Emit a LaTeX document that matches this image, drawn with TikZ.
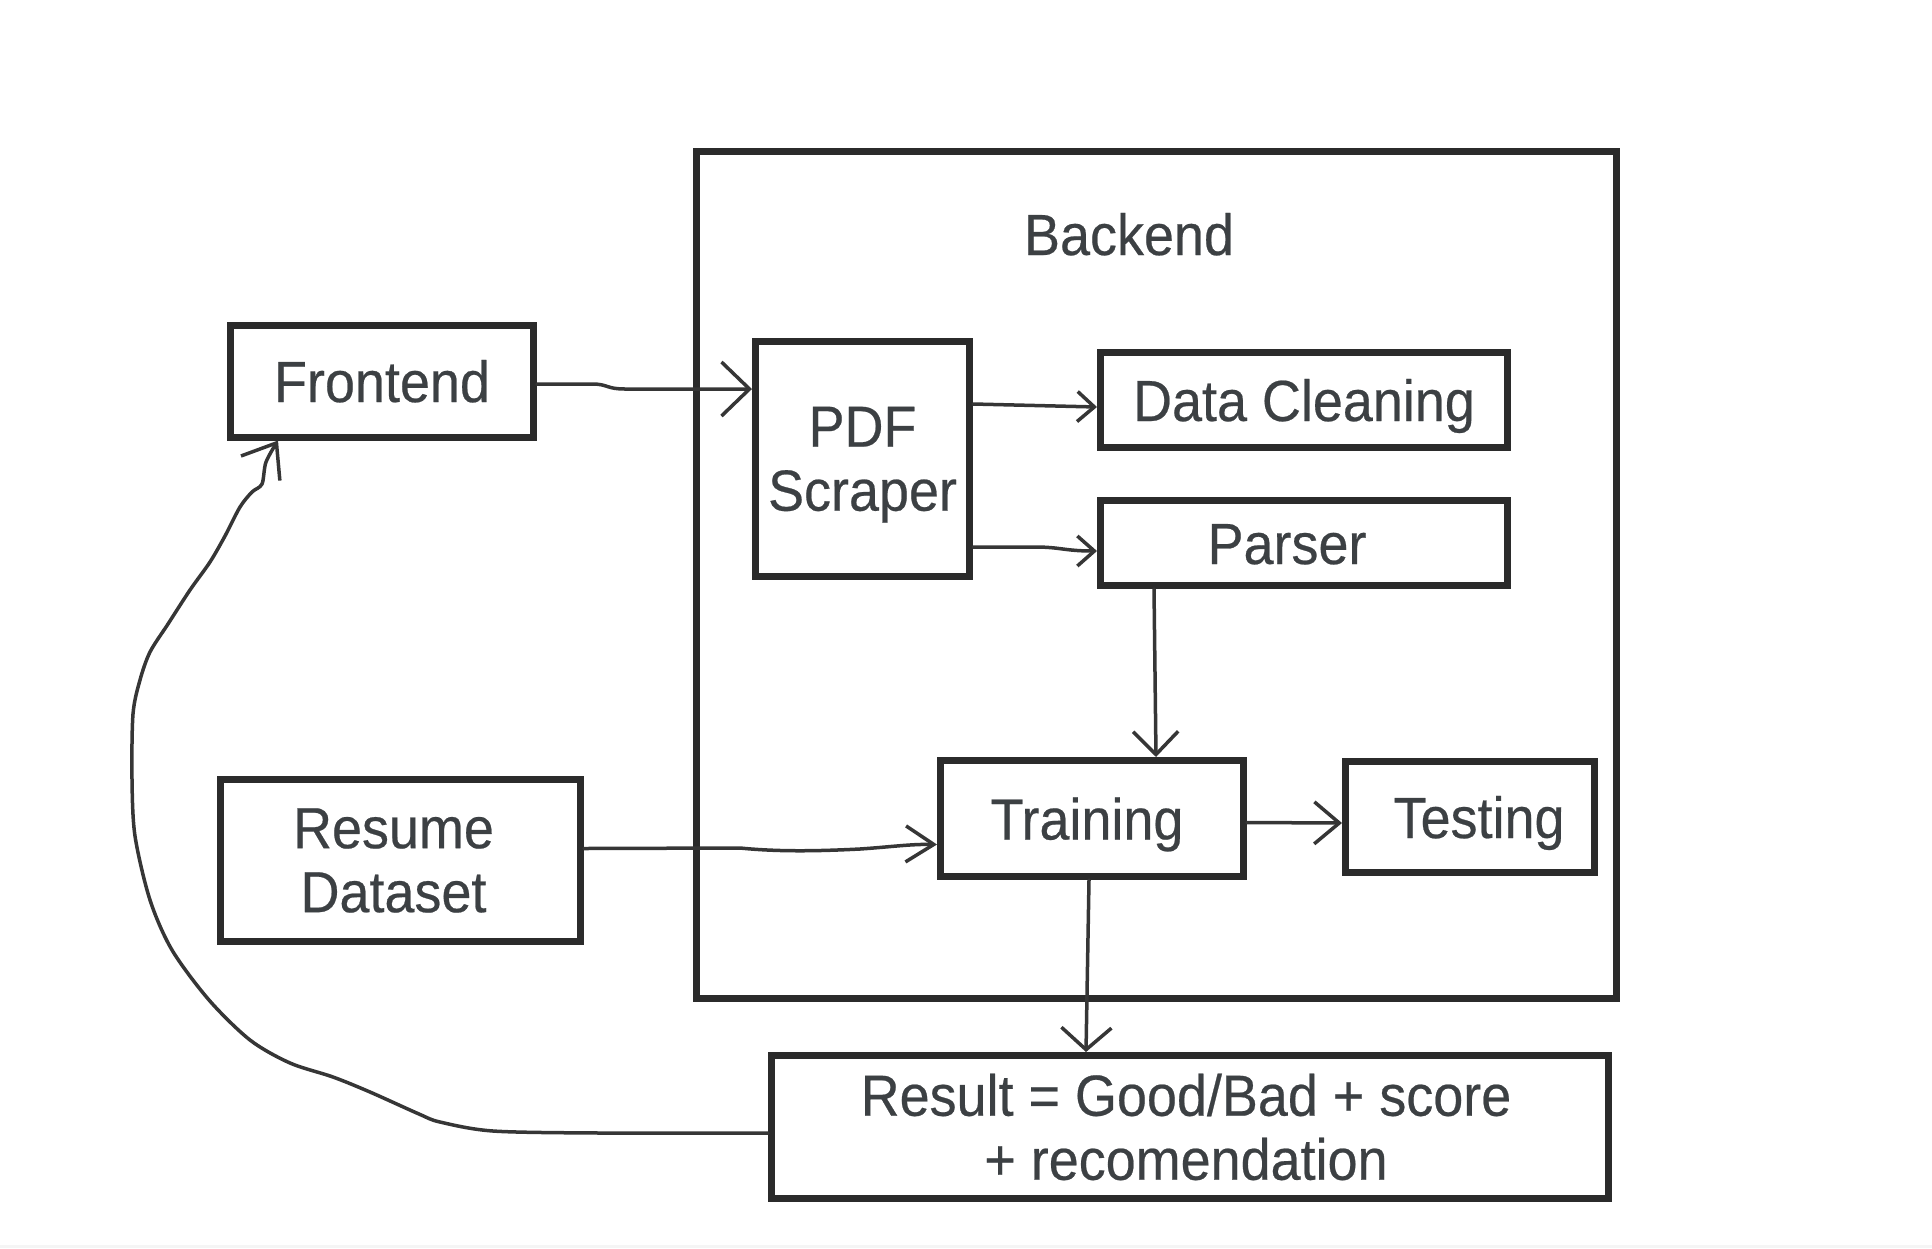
\documentclass[tikz,border=0pt]{standalone}
\usepackage{fontspec}
\setmainfont{Liberation Sans}[FakeStretch=0.93,FakeBold=0.4]
\usetikzlibrary{arrows.meta,calc}
\definecolor{ink}{HTML}{2B2B2B}
\definecolor{txt}{HTML}{3C4043}
\definecolor{wire}{HTML}{363636}
\begin{document}
\begin{tikzpicture}[x=1pt,y=-1pt,
  box/.style={draw=ink, line width=7pt, inner sep=0pt, text=txt, align=center,
    font=\fontsize{58}{64}\selectfont},
  one/.style={text height=42pt, text depth=0pt},
  conn/.style={draw=wire, line width=3.5pt, line cap=round, line join=round},
  tipA/.style={-{Straight Barb[length=28pt,width=54pt]}},
  tipB/.style={-{Straight Barb[length=17pt,width=30pt]}},
  tipC/.style={-{Straight Barb[length=23pt,width=45pt]}},
  tipD/.style={-{Straight Barb[length=28pt,width=36pt]}},
  tipE/.style={-{Straight Barb[length=25pt,width=42pt]}},
  tipG/.style={-{Straight Barb[length=22pt,width=50pt]}},
  tipF/.style={-{Straight Barb[length=30pt,width=46pt]}}
]
\useasboundingbox (0,0) rectangle (1932,1248);
\fill[gray!8] (0,1245) rectangle (1932,1248);

% Backend container
\node[box, minimum width=920pt, minimum height=847pt] (be) at (1156.5,575) {};
\node[anchor=base, text=txt, font=\fontsize{58}{64}\selectfont, inner sep=0pt] (belabel) at (1129,255) {Backend};

% Boxes
\node[box,one,minimum width=303pt,minimum height=112pt] (fe) at (382,381) {Frontend};
\node[box,minimum width=214pt,minimum height=235pt] (pdf) at (862.5,459) {PDF\\Scra\smash{p}er};
\node[box,one,minimum width=407pt,minimum height=95pt] (dc) at (1304,400) {Data Cleaning};
\node[box,one,minimum width=407pt,minimum height=85pt] (pa) at (1304,543) {Parser\kern34pt};
\node[box,one,minimum width=303pt,minimum height=116pt] (tr) at (1092,818.5) {Training\kern10pt};
\node[box,one,minimum width=249pt,minimum height=111pt] (te) at (1470,817) {\kern18pt Testing};
\node[box,minimum width=360pt,minimum height=162pt] (rd) at (400.5,860.5) {Resume\kern14pt\\Dataset\kern14pt};
\node[box,minimum width=837pt,minimum height=143pt] (res) at (1190,1127) {Result = Good/Bad + score\kern8pt\\+ recomendation\kern8pt};

% Connectors
\draw[conn,tipA] ($(fe.east)+(0,3)$) -- (592,384) .. controls (608,384) and (606,389) .. (625,389) -- ($(pdf.west)+(0,-70)$);
\draw[conn,tipB] ($(pdf.east)+(0,-55)$) -- ($(dc.west)+(0,7)$);
\draw[conn,tipB] ($(pdf.east)+(0,88)$) -- (1035,547) .. controls (1060,547) and (1065,551) .. ($(pa.west)+(0,8)$);
\draw[conn,tipC] ($(pa.south)+(-150,0)$) -- ($(tr.north)+(64,0)$);
\draw[conn,tipD] ($(rd.east)+(0,-12)$) -- (740,848) .. controls (780,852) and (820,851) .. (860,849) .. controls (890,847) and (910,844) .. ($(tr.west)+(0,26)$);
\draw[conn,tipE] ($(tr.east)+(0,4)$) -- ($(te.west)+(0,6)$);
\draw[conn,tipG] ($(tr.south)+(-3,0)$) -- ($(res.north)+(-104,0)$);

\coordinate (fbs) at ($(res.west)+(0,6)$);
\coordinate (fbe) at ($(fe.south west)+(51,0)$);
\draw[conn,tipF] plot[smooth, tension=0.5] coordinates {(fbs) (600,1133) (493,1131) (440,1122) (419,1114) (370,1092) (333,1077) (290,1063) (250,1040) (209,1000) (172,950) (150,900) (135,836) (132,779) (133,714) (140,680) (150,652) (168,624) (190,590) (210,562) (225,536) (240,507) (252,492) (262,484) (266,462) (fbe)};
\end{tikzpicture}
\end{document}
